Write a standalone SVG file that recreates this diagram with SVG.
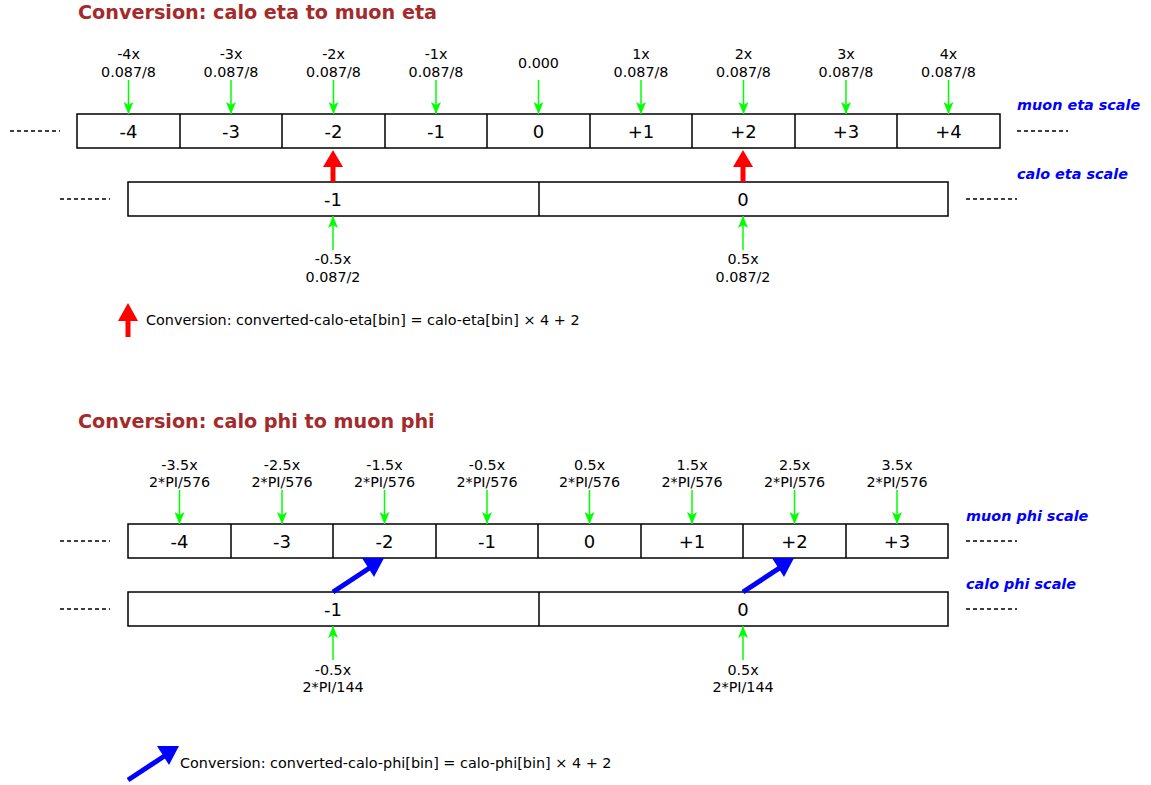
<svg xmlns="http://www.w3.org/2000/svg" width="1151" height="785" viewBox="0 0 1151 785">
<defs>
<style>
text{font-family:"DejaVu Sans",sans-serif;fill:#000}
.title{font-size:19.2px;font-weight:bold;fill:#a52a2a}
.cell{fill:#fff;stroke:#000;stroke-width:1.5}
.cl{font-size:18px;text-anchor:middle}
.sl{font-size:14.3px;text-anchor:middle}
.lg{font-size:14.4px}
.sc{font-size:14.4px;font-weight:bold;font-style:italic;fill:#0000ff}
.dash{stroke:#000;stroke-width:1.5;stroke-dasharray:4,3}
.g{stroke:#00ff00;stroke-width:1.5;fill:none}
.gh{fill:#00ff00}
.r{stroke:#ff0000;stroke-width:5;fill:none}
.b{stroke:#0000ff;stroke-width:5;fill:none}
</style>
<marker id="gm" viewBox="0 0 12 10" refX="12" refY="5" markerWidth="12" markerHeight="10" markerUnits="userSpaceOnUse" orient="auto"><path d="M0,0 L12,5 L0,10 L3,5 Z" class="gh"/></marker>
</defs>

<text class="title" x="78" y="19">Conversion: calo eta to muon eta</text>

<g id="muon-eta-scale">
<rect class="cell" x="77" y="114" width="923" height="34"/>
<path d="M180,114V148M282,114V148M385,114V148M487,114V148M590,114V148M692,114V148M795,114V148M897,114V148" stroke="#000" stroke-width="1.5"/>
<text class="cl" x="128.5" y="138">-4</text>
<text class="cl" x="231" y="138">-3</text>
<text class="cl" x="333.5" y="138">-2</text>
<text class="cl" x="436" y="138">-1</text>
<text class="cl" x="538.5" y="138">0</text>
<text class="cl" x="641" y="138">+1</text>
<text class="cl" x="743.5" y="138">+2</text>
<text class="cl" x="846" y="138">+3</text>
<text class="cl" x="948.5" y="138">+4</text>
</g>
<g id="calo-eta-scale">
<rect class="cell" x="128" y="182" width="820" height="34"/>
<path d="M539,182V216" stroke="#000" stroke-width="1.5"/>
<text class="cl" x="333" y="206">-1</text>
<text class="cl" x="743" y="206">0</text>
</g>
<g id="eta-labels">
<text class="sc" x="1017" y="110">muon eta scale</text>
<text class="sc" x="1017" y="179">calo eta scale</text>
<text class="sl" x="128.5" y="59">-4x</text><text class="sl" x="128.5" y="77">0.087/8</text>
<text class="sl" x="231" y="59">-3x</text><text class="sl" x="231" y="77">0.087/8</text>
<text class="sl" x="333.5" y="59">-2x</text><text class="sl" x="333.5" y="77">0.087/8</text>
<text class="sl" x="436" y="59">-1x</text><text class="sl" x="436" y="77">0.087/8</text>
<text class="sl" x="538.5" y="68">0.000</text>
<text class="sl" x="641" y="59">1x</text><text class="sl" x="641" y="77">0.087/8</text>
<text class="sl" x="743.5" y="59">2x</text><text class="sl" x="743.5" y="77">0.087/8</text>
<text class="sl" x="846" y="59">3x</text><text class="sl" x="846" y="77">0.087/8</text>
<text class="sl" x="948.5" y="59">4x</text><text class="sl" x="948.5" y="77">0.087/8</text>
<text class="sl" x="333" y="264">-0.5x</text><text class="sl" x="333" y="282">0.087/2</text>
<text class="sl" x="743" y="264">0.5x</text><text class="sl" x="743" y="282">0.087/2</text>
<text class="lg" x="146" y="325">Conversion: converted-calo-eta[bin] = calo-eta[bin] × 4 + 2</text>
</g>

<text class="title" x="78" y="428">Conversion: calo phi to muon phi</text>

<g id="muon-phi-scale">
<rect class="cell" x="128" y="524" width="820" height="34"/>
<path d="M231,524V558M333,524V558M436,524V558M538,524V558M641,524V558M743,524V558M846,524V558" stroke="#000" stroke-width="1.5"/>
<text class="cl" x="179.5" y="548">-4</text>
<text class="cl" x="282" y="548">-3</text>
<text class="cl" x="384.5" y="548">-2</text>
<text class="cl" x="487" y="548">-1</text>
<text class="cl" x="589.5" y="548">0</text>
<text class="cl" x="692" y="548">+1</text>
<text class="cl" x="794.5" y="548">+2</text>
<text class="cl" x="897" y="548">+3</text>
</g>
<g id="calo-phi-scale">
<rect class="cell" x="128" y="592" width="820" height="34"/>
<path d="M539,592V626" stroke="#000" stroke-width="1.5"/>
<text class="cl" x="333" y="616">-1</text>
<text class="cl" x="743" y="616">0</text>
</g>
<g id="phi-labels">
<text class="sc" x="966" y="521">muon phi scale</text>
<text class="sc" x="966" y="589">calo phi scale</text>
<text class="sl" x="179.5" y="470">-3.5x</text><text class="sl" x="179.5" y="487">2*PI/576</text>
<text class="sl" x="282" y="470">-2.5x</text><text class="sl" x="282" y="487">2*PI/576</text>
<text class="sl" x="384.5" y="470">-1.5x</text><text class="sl" x="384.5" y="487">2*PI/576</text>
<text class="sl" x="487" y="470">-0.5x</text><text class="sl" x="487" y="487">2*PI/576</text>
<text class="sl" x="589.5" y="470">0.5x</text><text class="sl" x="589.5" y="487">2*PI/576</text>
<text class="sl" x="692" y="470">1.5x</text><text class="sl" x="692" y="487">2*PI/576</text>
<text class="sl" x="794.5" y="470">2.5x</text><text class="sl" x="794.5" y="487">2*PI/576</text>
<text class="sl" x="897" y="470">3.5x</text><text class="sl" x="897" y="487">2*PI/576</text>
<text class="sl" x="333" y="675">-0.5x</text><text class="sl" x="333" y="692">2*PI/144</text>
<text class="sl" x="743" y="675">0.5x</text><text class="sl" x="743" y="692">2*PI/144</text>
<text class="lg" x="180" y="768">Conversion: converted-calo-phi[bin] = calo-phi[bin] × 4 + 2</text>
</g>

<g id="connectors">
<path class="dash" d="M10,131H60M1017,131H1068M60,199H110M966,199H1017M60,541H110M966,541H1017M60,609H110M966,609H1017"/>
<g class="g" marker-end="url(#gm)">
<path d="M128.5,80V114"/><path d="M231,80V114"/><path d="M333.5,80V114"/><path d="M436,80V114"/><path d="M538.5,80V114"/><path d="M641,80V114"/><path d="M743.5,80V114"/><path d="M846,80V114"/><path d="M948.5,80V114"/>
<path d="M333,250V216"/><path d="M743,250V216"/>
<path d="M179.5,490V524"/><path d="M282,490V524"/><path d="M384.5,490V524"/><path d="M487,490V524"/><path d="M589.5,490V524"/><path d="M692,490V524"/><path d="M794.5,490V524"/><path d="M897,490V524"/>
<path d="M333,660V626"/><path d="M743,660V626"/>
</g>
<g fill="#ff0000">
<path class="r" d="M333,182V162"/><path d="M323,167L333,150L343,167Z"/>
<path class="r" d="M743,182V162"/><path d="M733,167L743,150L753,167Z"/>
<path class="r" d="M128,337V317"/><path d="M118,321L128,303L138,321Z"/>
</g>
<g fill="#0000ff">
<path class="b" d="M333,592L371,567"/><path d="M362,558L384,558L374,577Z"/>
<path class="b" d="M743,592L781,567"/><path d="M772,558L794,558L784,577Z"/>
<path class="b" d="M128,780L166,755"/><path d="M157,746L179,746L169,765Z"/>
</g>
</g>
</svg>
